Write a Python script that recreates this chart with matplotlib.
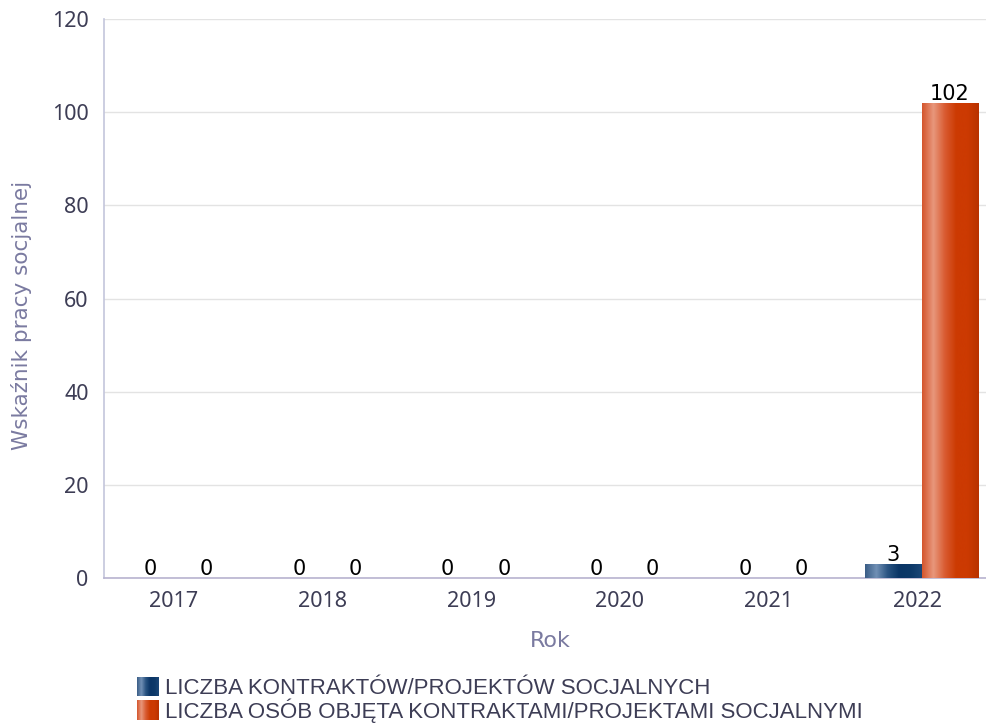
import numpy as np
import matplotlib.pyplot as plt
from matplotlib.colors import LinearSegmentedColormap
from matplotlib.patches import Patch

years = ['2017', '2018', '2019', '2020', '2021', '2022']
contracts = [0, 0, 0, 0, 0, 3]
persons = [0, 0, 0, 0, 0, 102]
series_names = ['LICZBA KONTRAKTÓW/PROJEKTÓW SOCJALNYCH',
                'LICZBA OSÓB OBJĘTA KONTRAKTAMI/PROJEKTAMI SOCJALNYMI']

blue_cmap = LinearSegmentedColormap.from_list(
    'blue', ['#3a5d86', '#7190b5', '#2a5482', '#0a3566', '#0c3868', '#1b4676'])
orange_cmap = LinearSegmentedColormap.from_list(
    'orange', ['#d4552c', '#e8977c', '#d95c32', '#cc3a02', '#cc3a02', '#b83200'])

fig = plt.figure(figsize=(9.86, 7.28), dpi=100)
# the plot area runs a bit past the right edge, like in the original
ax = fig.add_axes([104 / 986, 0.206, 892 / 986, 0.7679])

x = np.arange(len(years))
w = 0.38
grad = np.linspace(0, 1, 256).reshape(1, -1)


def gradient_bars(xpos, vals, cmap):
    bars = ax.bar(xpos, vals, w, color='none', edgecolor='none', zorder=3)
    for b in bars:
        if b.get_height() <= 0:
            continue
        x0, y0 = b.get_x(), b.get_y()
        im = ax.imshow(grad, extent=[x0, x0 + b.get_width(), y0, y0 + b.get_height()],
                       cmap=cmap, aspect='auto', zorder=3, interpolation='bilinear')
        im.set_clip_path(b)
    return bars


b1 = gradient_bars(x - w / 2, contracts, blue_cmap)
b2 = gradient_bars(x + w / 2, persons, orange_cmap)

for bars in (b1, b2):
    for b in bars:
        ax.text(b.get_x() + b.get_width() / 2, b.get_height() + 0.7,
                str(int(b.get_height())), ha='center', va='baseline',
                fontsize=15, color='black', family='DejaVu Sans', zorder=4)

ax.set_xlim(-0.5, len(years) - 0.5)
ax.set_ylim(0, 120)
ax.set_yticks(range(0, 121, 20))
ax.set_xticks(x - 0.03)
ax.set_xticklabels(years)
ax.grid(axis='y', color='#e3e3e3', linewidth=1, zorder=0)
ax.set_axisbelow(True)

for s in ['top', 'right']:
    ax.spines[s].set_visible(False)
ax.spines['left'].set_color('#c3c6dc')
ax.spines['bottom'].set_color('#b7b3d0')
ax.spines['left'].set_linewidth(1.2)
ax.spines['bottom'].set_linewidth(1.2)
ax.tick_params(length=0, labelsize=15.5, labelcolor='#3d3d55')
ax.tick_params(axis='y', pad=11)
ax.tick_params(axis='x', pad=9)
for lbl in ax.get_xticklabels() + ax.get_yticklabels():
    lbl.set_family('Noto Sans')

ax.set_xlabel('Rok', fontsize=16, color='#7a7aa0', family='DejaVu Sans', labelpad=14)
ax.set_ylabel('Wskaźnik pracy socjalnej', fontsize=15.5, color='#7a7aa0',
              family='DejaVu Sans')
ax.yaxis.set_label_coords(-72 / 892, 0.47)

handles = [Patch(facecolor='#1c4a78'), Patch(facecolor='#cc3a02')]
leg = fig.legend(handles, series_names, loc='upper left', bbox_to_anchor=(137 / 986, 1 - 677 / 728),
                 frameon=False, handlelength=0.95, handleheight=0.95,
                 handletextpad=0.3, labelspacing=-0.05, borderpad=0, borderaxespad=0,
                 prop={'family': 'Liberation Sans', 'size': 16})
for t in leg.get_texts():
    t.set_color('#3d3d55')

# paint the same gradients over the legend squares
fig.canvas.draw()
for patch, cmap in zip(leg.get_patches(), [blue_cmap, orange_cmap]):
    bb = patch.get_window_extent().transformed(fig.transFigure.inverted())
    hax = fig.add_axes(bb.bounds)
    hax.imshow(grad, cmap=cmap, aspect='auto', interpolation='bilinear')
    hax.axis('off')
    hax.set_zorder(10)

fig.savefig('out.png', dpi=100)
